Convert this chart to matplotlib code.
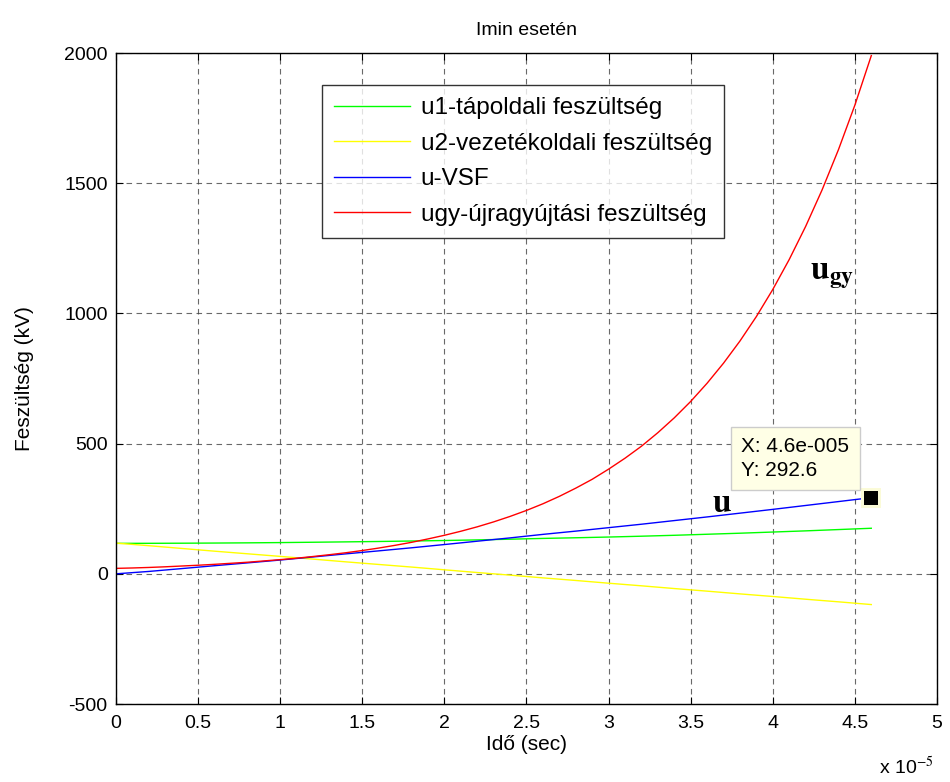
import matplotlib
matplotlib.use("Agg")
import matplotlib.pyplot as plt

plt.rcParams['font.family'] = ['Liberation Sans', 'DejaVu Sans']
plt.rcParams['axes.unicode_minus'] = False
plt.rcParams['mathtext.fontset'] = 'stix'

# time in units of 1e-5 s
t = [0.0, 0.2, 0.4, 0.6, 0.8, 1.0, 1.2, 1.4, 1.6, 1.8, 2.0, 2.2, 2.4, 2.6,
     2.8, 3.0, 3.2, 3.4, 3.6, 3.8, 4.0, 4.2, 4.4, 4.6]
u1 = [117, 117.2, 117.6, 118.2, 119, 120, 121.3, 122.7, 124.2, 126, 128, 130.3,
      133, 136, 138.5, 141.3, 144.5, 148, 152, 156, 160.5, 165, 170, 175]
u2 = [118, 108, 97.5, 87, 77, 67, 56.5, 46, 36, 26, 15.5, 5, -5, -15.5, -25.5,
      -36, -46, -56.5, -66.5, -77, -87, -97.5, -107.5, -118]
u_vsf = [0, 9.2, 20.1, 31.2, 42, 53, 64.8, 76.7, 88.2, 100, 112.5, 125.3, 138,
         151.5, 164, 177.3, 190.5, 204.5, 218.5, 233, 247.5, 262.5, 277.5, 292.6]

t_gy = [0.0, 0.1, 0.2, 0.3, 0.4, 0.5, 0.6, 0.7, 0.8, 0.9, 1.0, 1.1, 1.2, 1.3,
        1.4, 1.5, 1.6, 1.7, 1.8, 1.9, 2.0, 2.1, 2.2, 2.3, 2.4, 2.5, 2.6, 2.7,
        2.8, 2.9, 3.0, 3.1, 3.2, 3.3, 3.4, 3.5, 3.6, 3.7, 3.8, 3.9, 4.0, 4.1,
        4.2, 4.3, 4.4, 4.5, 4.6]
ugy = [21, 22.5, 24.5, 27, 30, 33, 36.5, 40.5, 44.5, 49.5, 54.5, 60, 66.5,
       73.5, 81, 89.5, 99, 109.5, 121, 134, 148, 163.5, 180.5, 199.5, 220.5,
       243.5, 269, 297.5, 329, 363, 402, 444, 490, 542, 599, 662, 732, 809,
       894, 988, 1092, 1207, 1334, 1474, 1629, 1800, 1990]

labels = ['u1-tápoldali feszültség', 'u2-vezetékoldali feszültség', 'u-VSF',
          'ugy-újragyújtási feszültség']
xticks = [0, 0.5, 1, 1.5, 2, 2.5, 3, 3.5, 4, 4.5, 5]
xticklabels = ['0', '0.5', '1', '1.5', '2', '2.5', '3', '3.5', '4', '4.5', '5']
yticks = [-500, 0, 500, 1000, 1500, 2000]
tip_x, tip_y = 4.6, 292.6

fig = plt.figure(figsize=(9.5, 7.82), dpi=100)
ax = fig.add_axes([0.1221, 0.0997, 0.8642, 0.8325])

lw = 1.0
ax.plot(t, u1, color=(0, 1, 0), lw=lw, label=labels[0])
ax.plot(t, u2, color=(1, 1, 0), lw=lw, label=labels[1])
ax.plot(t, u_vsf, color=(0, 0, 1), lw=lw, label=labels[2])
ax.plot(t_gy, ugy, color=(1, 0, 0), lw=lw, label=labels[3])

ax.set_xlim(0, 5)
ax.set_ylim(-500, 2000)
ax.set_xticks(xticks)
ax.set_xticklabels(xticklabels)
ax.set_yticks(yticks)
ax.tick_params(direction='in', top=True, right=True, labelsize=14, length=5,
               width=0.8)
ax.tick_params(axis='x', pad=8)
ax.tick_params(axis='y', pad=6)
ax.grid(True, color='#444444', linestyle=(0, (5, 4)), linewidth=0.8, alpha=0.8)
for s in ax.spines.values():
    s.set_linewidth(1.0)

ax.set_title('Imin esetén', fontsize=14, pad=13)
ax.set_xlabel('Idő (sec)', fontsize=15, labelpad=2)
ax.set_ylabel('Feszültség (kV)', fontsize=15, labelpad=22)
fig.text(0.925, 0.004, 'x 10$^{-5}$', fontsize=14, ha='left', va='bottom',
         family='Liberation Sans')

leg = ax.legend(loc='upper left', bbox_to_anchor=(0.251, 0.951), fontsize=17.5,
                frameon=True, fancybox=False, edgecolor='black',
                handlelength=3.1, borderpad=0.5, labelspacing=0.56,
                handletextpad=0.45, borderaxespad=0)
leg.get_frame().set_linewidth(1.0)

# annotations
ax.text(3.69, 270, r'$\mathbf{u}$', fontsize=24, ha='center', va='center')
ax.text(4.36, 1145, r'$\mathbf{u_{gy}}$', fontsize=24, ha='center',
        va='center')

# data tip
ax.plot([tip_x], [tip_y], marker='s', markersize=15, color='#fbfbd8',
        markeredgewidth=0, zorder=5, linestyle='none')
ax.plot([tip_x], [tip_y], marker='s', markersize=10, color='black',
        markeredgewidth=0, zorder=6, linestyle='none')
ax.annotate('X: 4.6e-005\nY: 292.6', xy=(tip_x, tip_y),
            xytext=(-22, 18), textcoords='offset pixels', ha='right',
            va='bottom', multialignment='left', fontsize=15, linespacing=1.3,
            bbox=dict(boxstyle='square,pad=0.5', facecolor='#ffffe6',
                      edgecolor='#cccccc', linewidth=1), zorder=7)

fig.savefig('out.png', dpi=100)
